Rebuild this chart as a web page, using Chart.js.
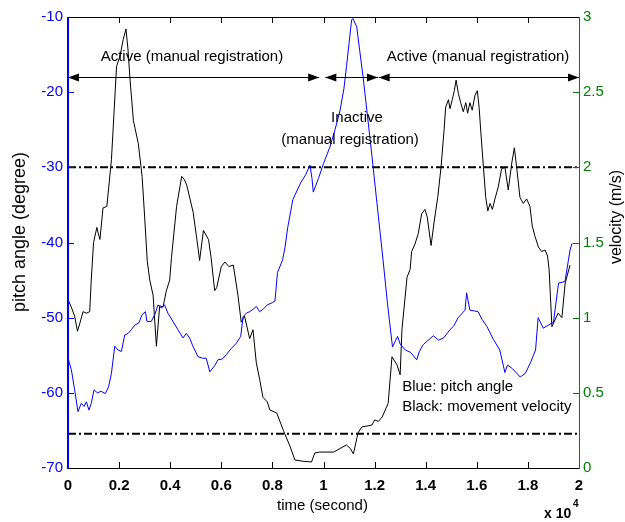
<!DOCTYPE html>
<html><head><meta charset="utf-8">
<script src="https://cdn.jsdelivr.net/npm/chart.js@4"></script>
<style>html,body{margin:0;padding:0;background:#fff}</style>
</head><body>
<canvas id="c" width="625" height="522" style="width:625px;height:522px"></canvas>
<script>
// ---- data (time in units of 10^4 s) ----
const pitchTime = [0,0.013,0.026,0.039,0.052,0.063,0.072,0.082,0.091,0.102,0.115,0.13,0.146,0.159,0.17,0.183,0.196,0.209,0.222,0.235,0.248,0.261,0.277,0.29,0.303,0.309,0.326,0.342,0.352,0.365,0.378,0.391,0.411,0.43,0.45,0.463,0.476,0.489,0.509,0.528,0.541,0.555,0.574,0.587,0.604,0.62,0.639,0.659,0.676,0.685,0.698,0.711,0.724,0.737,0.75,0.763,0.78,0.8,0.81,0.82,0.84,0.85,0.86,0.88,0.91,0.93,0.947,0.955,0.96,0.98,1.0,1.025,1.045,1.065,1.08,1.09,1.1,1.11,1.115,1.13,1.14,1.155,1.17,1.19,1.215,1.233,1.25,1.27,1.29,1.3,1.32,1.34,1.365,1.375,1.39,1.41,1.43,1.45,1.47,1.495,1.51,1.527,1.554,1.56,1.573,1.59,1.605,1.62,1.64,1.665,1.69,1.71,1.72,1.74,1.77,1.79,1.81,1.83,1.84,1.86,1.88,1.9,1.92,1.945,1.957,1.965,1.973];
const pitchAngle = [-55.4,-56.9,-59.6,-62.5,-61.4,-61.8,-61.2,-62.3,-61.4,-59.6,-60.0,-59.8,-60.1,-59.2,-57.4,-53.8,-54.3,-54.5,-52.3,-52.1,-51.6,-51.0,-50.7,-49.6,-49.2,-50.5,-50.5,-49.4,-48.3,-48.7,-48.3,-49.4,-50.5,-51.6,-52.7,-52.1,-52.7,-53.8,-55.2,-55.4,-55.4,-57.2,-56.4,-55.6,-55.5,-54.9,-54.1,-53.4,-52.5,-49.9,-49.4,-49.2,-48.9,-48.5,-49.2,-48.9,-48.3,-48,-47.8,-44,-42.3,-40.5,-38,-34.3,-32.1,-31,-29.7,-31.5,-33.3,-31.5,-29.5,-27.3,-25,-22.4,-19.5,-16.6,-13.5,-10.4,-10.2,-11.3,-14,-18,-22.5,-28.6,-36.6,-42.3,-48,-53.9,-52.5,-53.5,-54.3,-54.6,-55.6,-54.5,-53.6,-53.0,-52.4,-53.0,-52.7,-51.6,-51.1,-50,-49,-46.7,-49,-49.1,-49.2,-50.2,-51.2,-52.9,-54.3,-57.3,-56.3,-56.8,-57.9,-57.4,-56,-54.3,-50,-51.4,-51.0,-50.6,-45.4,-45.2,-42.7,-41,-40.1];

const velTime = [0,0.013,0.026,0.037,0.046,0.059,0.072,0.085,0.091,0.1,0.113,0.12,0.125,0.137,0.152,0.17,0.19,0.205,0.216,0.227,0.235,0.243,0.256,0.275,0.29,0.3,0.31,0.32,0.333,0.346,0.359,0.372,0.385,0.398,0.405,0.425,0.445,0.455,0.465,0.49,0.51,0.515,0.53,0.55,0.56,0.574,0.582,0.6,0.614,0.63,0.647,0.665,0.678,0.691,0.711,0.724,0.737,0.75,0.763,0.78,0.79,0.817,0.843,0.87,0.888,0.92,0.953,0.966,0.985,1.04,1.065,1.09,1.105,1.117,1.135,1.15,1.19,1.2,1.215,1.23,1.253,1.268,1.288,1.3,1.307,1.327,1.339,1.345,1.358,1.371,1.384,1.397,1.406,1.421,1.434,1.447,1.46,1.472,1.478,1.489,1.495,1.504,1.512,1.519,1.528,1.537,1.547,1.557,1.564,1.573,1.582,1.593,1.602,1.609,1.616,1.626,1.635,1.643,1.652,1.661,1.671,1.684,1.697,1.71,1.723,1.737,1.747,1.756,1.769,1.782,1.795,1.808,1.817,1.828,1.841,1.854,1.867,1.877,1.883,1.894,1.918,1.933,1.946,1.965];
const velocity = [1.12,1.07,1.01,0.91,0.96,1.04,1.03,1.04,1.25,1.5,1.60,1.55,1.52,1.73,1.74,2.05,2.67,2.75,2.85,2.92,2.78,2.58,2.31,2.16,1.94,1.67,1.38,1.25,1.15,0.81,1.08,1.07,1.18,1.25,1.40,1.74,1.94,1.92,1.88,1.70,1.45,1.38,1.58,1.52,1.40,1.18,1.20,1.34,1.37,1.34,1.35,1.15,0.97,1.01,0.86,0.92,0.70,0.59,0.47,0.44,0.386,0.366,0.25,0.14,0.053,0.045,0.04,0.10,0.106,0.106,0.13,0.153,0.13,0.093,0.233,0.273,0.286,0.32,0.31,0.34,0.43,0.74,0.685,0.62,0.92,1.27,1.32,1.44,1.49,1.56,1.69,1.72,1.67,1.48,1.65,1.80,2.00,2.25,2.40,2.45,2.39,2.45,2.51,2.58,2.49,2.43,2.37,2.43,2.36,2.43,2.38,2.48,2.51,2.40,2.23,2.00,1.80,1.71,1.76,1.72,1.79,1.87,1.99,2.00,1.85,2.03,2.13,2.00,1.80,1.76,1.79,1.74,1.61,1.54,1.47,1.44,1.45,1.41,1.32,0.94,1.03,1.0,1.23,1.35];

const thresholdAngles = [-30, -65.45];
const xTicks = [0,0.2,0.4,0.6,0.8,1,1.2,1.4,1.6,1.8,2];
const angleTicks = [-70,-60,-50,-40,-30,-20,-10];
const velTicks = [0,0.5,1,1.5,2,2.5,3];

const arrowAngle = -18;
const arrowSpans = [[0,0.983],[1.007,1.213],[1.216,2.0]];
const annotations = [
  {text:'Active (manual registration)', x:0.485, y:-15.3},
  {text:'Inactive', x:1.131, y:-23.4},
  {text:'(manual registration)', x:1.104, y:-26.36},
  {text:'Active (manual registration)', x:1.605, y:-15.3}
];
const legendNotes = [
  {text:'Blue: pitch angle', x:1.308, y:-59.2},
  {text:'Black: movement velocity', x:1.308, y:-61.9}
];

const FONT = '"Liberation Sans", Arial, sans-serif';
const pts = (xs, ys) => xs.map((x,i)=>({x, y:ys[i]}));

const decor = {
  id:'decor',
  afterDatasetsDraw(chart){
    const {ctx, chartArea:a, scales} = chart;
    const sx = scales.x, sy = scales.y, sv = scales.y2;
    ctx.save();
    // ticks inward
    ctx.lineWidth = 1;
    ctx.strokeStyle = '#000';
    xTicks.forEach(v=>{
      const p = Math.round(sx.getPixelForValue(v))+0.5;
      ctx.beginPath();
      ctx.moveTo(p,a.bottom); ctx.lineTo(p,a.bottom-6);
      ctx.moveTo(p,a.top); ctx.lineTo(p,a.top+6);
      ctx.stroke();
    });
    ctx.strokeStyle = '#0000ff';
    angleTicks.forEach(v=>{
      const p = Math.round(sy.getPixelForValue(v))+0.5;
      ctx.beginPath(); ctx.moveTo(a.left,p); ctx.lineTo(a.left+6,p); ctx.stroke();
    });
    ctx.strokeStyle = '#008000';
    velTicks.forEach(v=>{
      const p = Math.round(sv.getPixelForValue(v))+0.5;
      ctx.beginPath(); ctx.moveTo(a.right,p); ctx.lineTo(a.right-6,p); ctx.stroke();
    });
    // frame
    ctx.strokeStyle = '#000'; ctx.lineWidth = 1;
    ctx.beginPath();
    ctx.moveTo(a.left, Math.round(a.top)+0.5); ctx.lineTo(a.right, Math.round(a.top)+0.5);
    ctx.moveTo(a.left, Math.round(a.bottom)+0.5); ctx.lineTo(a.right, Math.round(a.bottom)+0.5);
    ctx.stroke();
    ctx.strokeStyle = '#0000ff'; ctx.lineWidth = 2;
    ctx.beginPath(); ctx.moveTo(a.left, a.top); ctx.lineTo(a.left, a.bottom+1); ctx.stroke();
    ctx.strokeStyle = '#008000'; ctx.lineWidth = 1;
    ctx.beginPath(); ctx.moveTo(Math.round(a.right)+0.5, a.top); ctx.lineTo(Math.round(a.right)+0.5, a.bottom+1); ctx.stroke();

    // arrows
    const ay = Math.round(sy.getPixelForValue(arrowAngle))+0.5;
    ctx.strokeStyle = '#000'; ctx.fillStyle = '#000'; ctx.lineWidth = 1;
    arrowSpans.forEach(([x0,x1])=>{
      const p0 = sx.getPixelForValue(x0), p1 = sx.getPixelForValue(x1);
      ctx.beginPath(); ctx.moveTo(p0,ay); ctx.lineTo(p1,ay); ctx.stroke();
      ctx.beginPath(); ctx.moveTo(p0,ay); ctx.lineTo(p0+11,ay-4); ctx.lineTo(p0+11,ay+4); ctx.closePath(); ctx.fill();
      ctx.beginPath(); ctx.moveTo(p1,ay); ctx.lineTo(p1-11,ay-4); ctx.lineTo(p1-11,ay+4); ctx.closePath(); ctx.fill();
    });

    // annotation texts
    ctx.font = '15px ' + FONT;
    ctx.fillStyle = '#000';
    ctx.textBaseline = 'middle';
    ctx.textAlign = 'center';
    annotations.forEach(t=>ctx.fillText(t.text, sx.getPixelForValue(t.x), sy.getPixelForValue(t.y)));
    ctx.textAlign = 'left';
    legendNotes.forEach(t=>ctx.fillText(t.text, sx.getPixelForValue(t.x), sy.getPixelForValue(t.y)));

    // axis titles
    ctx.textAlign = 'center';
    ctx.font = '15px ' + FONT;
    ctx.fillText('time (second)', (a.left+a.right)/2 - 1, 506);
    ctx.save();
    ctx.translate(20, 232); ctx.rotate(-Math.PI/2);
    ctx.font = '18px ' + FONT;
    ctx.fillText('pitch angle (degree)', 0, 0);
    ctx.restore();
    ctx.save();
    ctx.translate(617, 217); ctx.rotate(-Math.PI/2);
    ctx.font = '16px ' + FONT;
    ctx.fillText('velocity (m/s)', 0, 0);
    ctx.restore();
    // exponent
    ctx.textAlign = 'left';
    ctx.font = 'bold 14px ' + FONT;
    ctx.fillText('x 10', 544, 514);
    ctx.font = 'bold 10px ' + FONT;
    ctx.fillText('4', 573, 504);
    ctx.restore();
  }
};

new Chart(document.getElementById('c'), {
  type:'line',
  data:{datasets:[
    {label:'pitch', data:pts(pitchTime,pitchAngle), yAxisID:'y', borderColor:'#0000ff', borderWidth:1, pointRadius:0, tension:0, fill:false},
    {label:'velocity', data:pts(velTime,velocity), yAxisID:'y2', borderColor:'#000000', borderWidth:1, pointRadius:0, tension:0, fill:false},
    ...thresholdAngles.map(v=>({label:'thr', data:[{x:xTicks[0],y:v},{x:xTicks[xTicks.length-1],y:v}], yAxisID:'y', borderColor:'#000', borderWidth:2, borderDash:[8,3,2,3], pointRadius:0, fill:false}))
  ]},
  options:{
    responsive:false, animation:false, events:[],
    layout:{padding:{top:17,left:0,right:0,bottom:0}},
    plugins:{legend:{display:false}, tooltip:{enabled:false}},
    scales:{
      x:{type:'linear', position:'bottom', min:0, max:2,
        afterBuildTicks:s=>{s.ticks = xTicks.map(v=>({value:v}));},
        afterFit:s=>{s.height = 54;},
        grid:{display:false, drawTicks:false}, border:{display:false},
        ticks:{autoSkip:false, maxRotation:0, padding:9, color:'#000', font:{family:FONT, size:15, weight:'bold'},
          callback:v=>String(Math.round(v*10)/10)}},
      y:{type:'linear', position:'left', min:-70, max:-10,
        afterBuildTicks:s=>{s.ticks = angleTicks.map(v=>({value:v}));},
        afterFit:s=>{s.width = 68;},
        grid:{display:false, drawTicks:false}, border:{display:false},
        ticks:{padding:5, color:'#0000ff', font:{family:FONT, size:15}}},
      y2:{type:'linear', position:'right', min:0, max:3,
        afterBuildTicks:s=>{s.ticks = velTicks.map(v=>({value:v}));},
        afterFit:s=>{s.width = 46;},
        grid:{display:false, drawTicks:false}, border:{display:false},
        ticks:{padding:4, color:'#008000', font:{family:FONT, size:15}, callback:v=>String(v)}}
    }
  },
  plugins:[decor]
});
</script>
</body></html>
